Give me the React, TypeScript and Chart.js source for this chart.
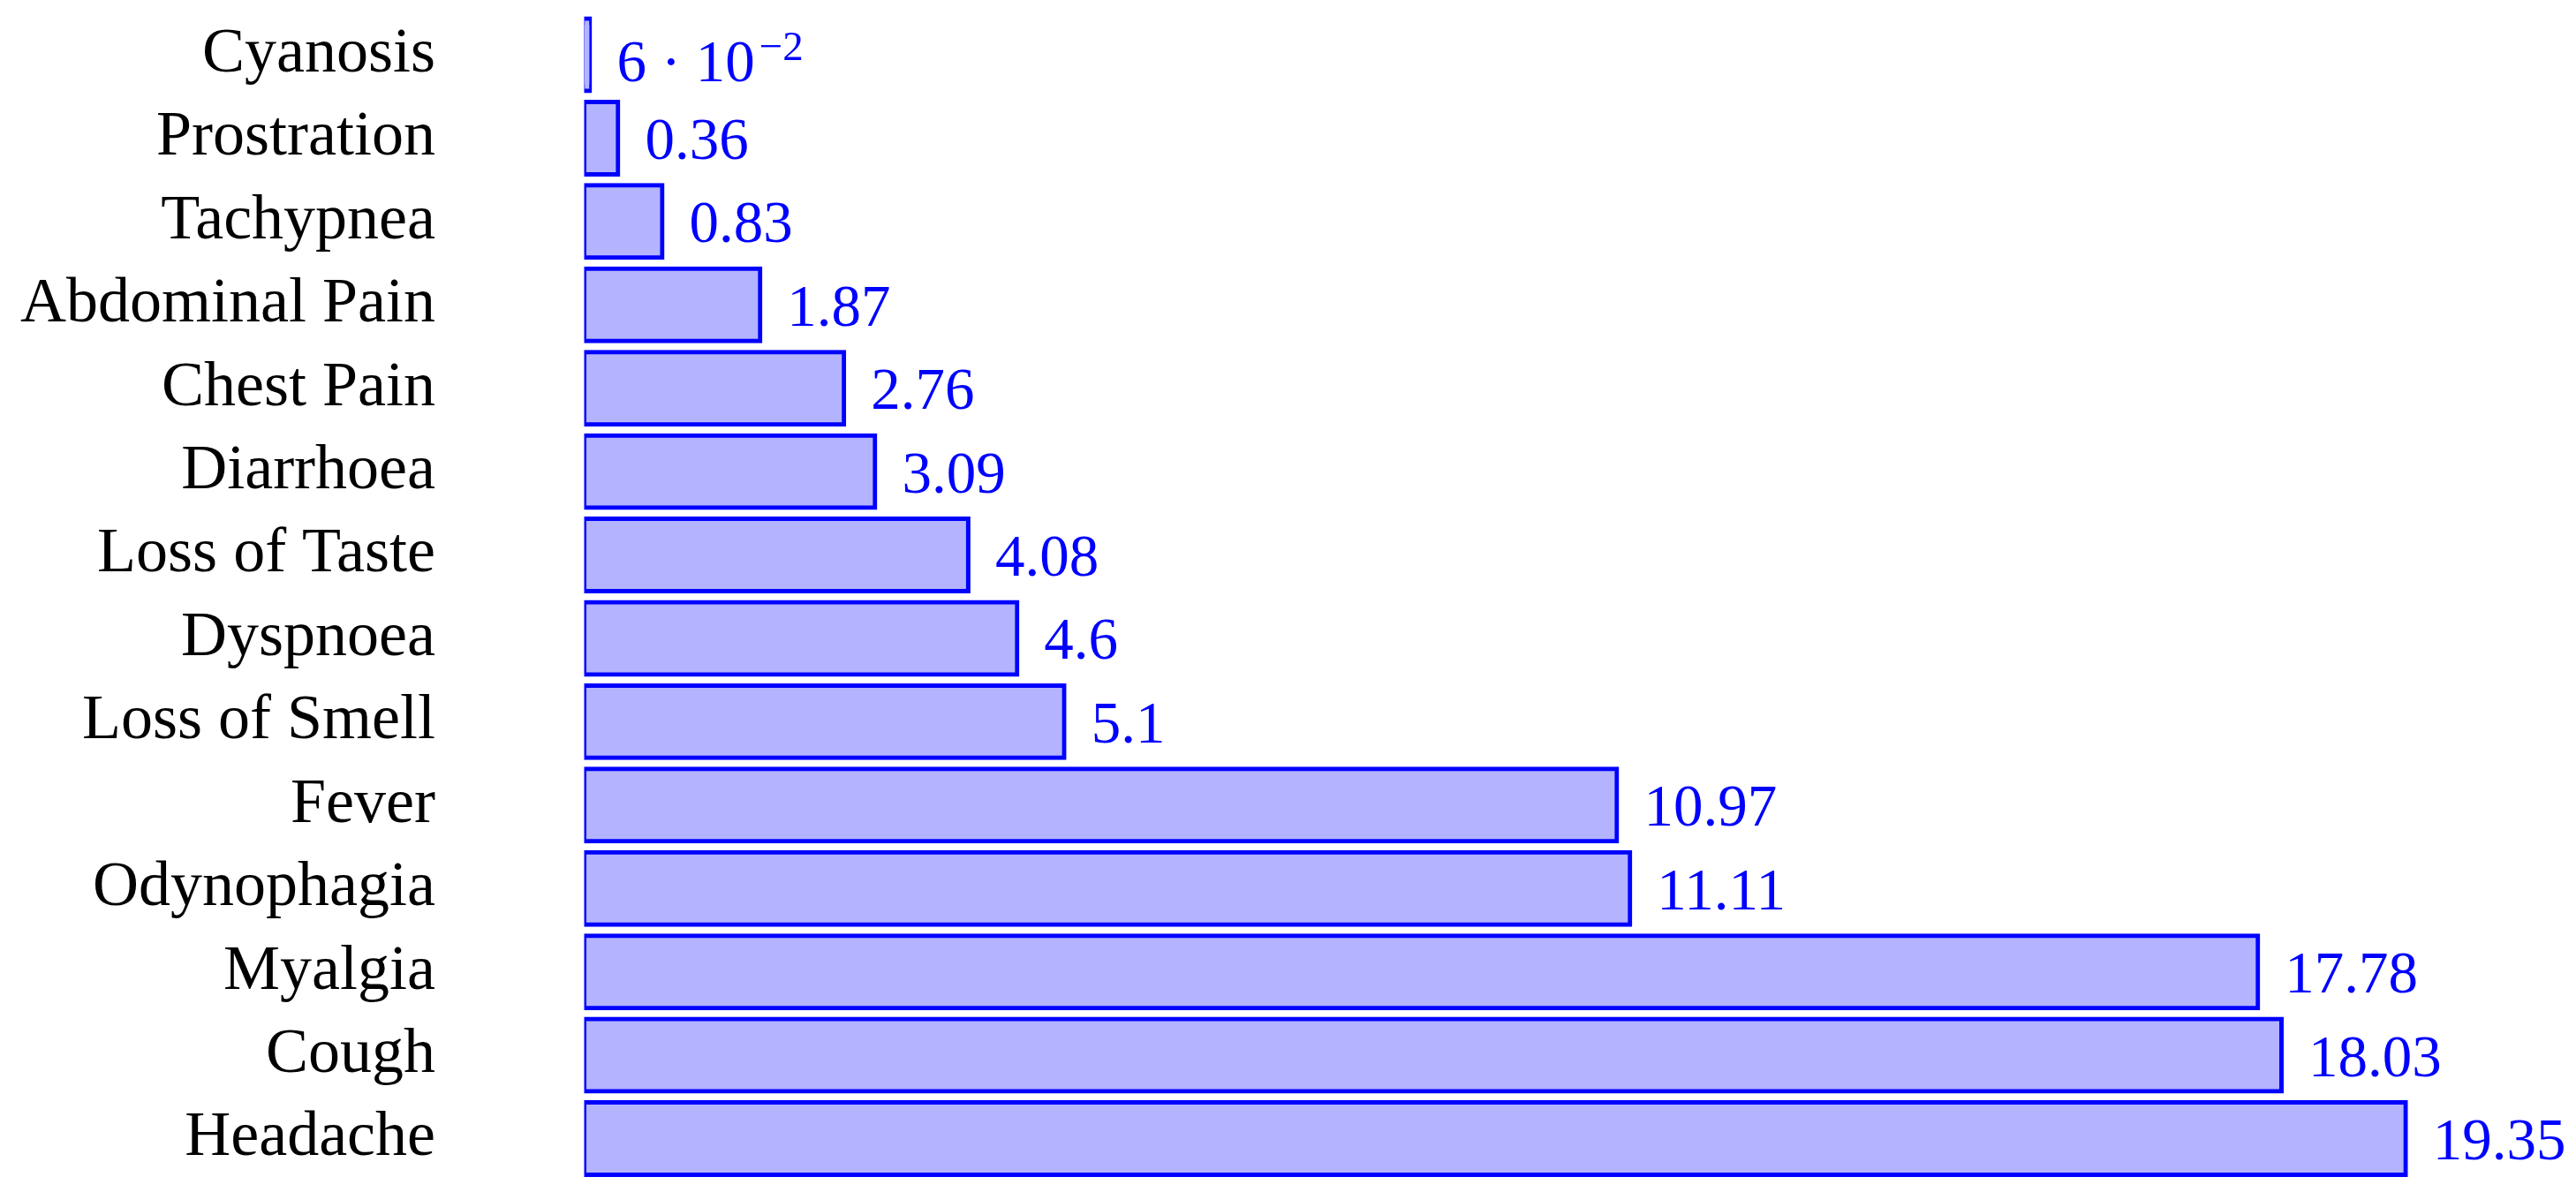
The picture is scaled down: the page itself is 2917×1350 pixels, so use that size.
import React, { useEffect, useRef } from "react";
import { Chart, registerables } from "chart.js";

Chart.register(...registerables);

const categories = [
  "Cyanosis",
  "Prostration",
  "Tachypnea",
  "Abdominal Pain",
  "Chest Pain",
  "Diarrhoea",
  "Loss of Taste",
  "Dyspnoea",
  "Loss of Smell",
  "Fever",
  "Odynophagia",
  "Myalgia",
  "Cough",
  "Headache",
];

const values = [0.06, 0.36, 0.83, 1.87, 2.76, 3.09, 4.08, 4.6, 5.1, 10.97, 11.11, 17.78, 18.03, 19.35];

const valueLabels = ["6 · 10", "0.36", "0.83", "1.87", "2.76", "3.09", "4.08", "4.6", "5.1", "10.97", "11.11", "17.78", "18.03", "19.35"];
const valueSuperscripts = ["−2", "", "", "", "", "", "", "", "", "", "", "", "", ""];

const FONT = '"Liberation Serif", "Times New Roman", serif';
const FONT_SIZE = 67;
const TICK_FONT_SIZE = 72;
const BLUE = "#0000ff";
const FILL = "#b3b3ff";

const labelPlugin = {
  id: "valueLabels",
  afterDatasetsDraw(chart: any) {
    const ctx = chart.ctx;
    const meta = chart.getDatasetMeta(0);
    ctx.save();
    ctx.fillStyle = BLUE;
    ctx.textAlign = "left";
    ctx.textBaseline = "alphabetic";
    meta.data.forEach((bar: any, i: number) => {
      const x = bar.x + 2.5 + 28;
      const sup = valueSuperscripts[i];
      ctx.font = `${FONT_SIZE}px ${FONT}`;
      if (sup) {
        const baseline = bar.y + 30;
        ctx.fillText(valueLabels[i], x, baseline);
        const w = ctx.measureText(valueLabels[i]).width;
        ctx.font = `${Math.round(FONT_SIZE * 0.7)}px ${FONT}`;
        ctx.fillText(sup, x + w + 5, baseline - 24);
      } else {
        ctx.fillText(valueLabels[i], x, bar.y + 23.5);
      }
    });
    ctx.restore();
  },
};

export default function App() {
  const ref = useRef<HTMLCanvasElement | null>(null);
  useEffect(() => {
    if (!ref.current) return;
    const chart = new Chart(ref.current, {
      type: "bar",
      data: {
        labels: categories,
        datasets: [
          {
            data: values,
            backgroundColor: FILL,
            borderColor: BLUE,
            borderWidth: 5,
            borderSkipped: false,
            inflateAmount: 2.5,
            barPercentage: 0.868,
            categoryPercentage: 1,
          } as any,
        ],
      },
      options: {
        indexAxis: "y",
        animation: false,
        responsive: false,
        devicePixelRatio: 1,
        layout: { padding: { left: 0, right: 123.5, top: 14.8, bottom: 13.3 } },
        plugins: { legend: { display: false }, tooltip: { enabled: false } },
        scales: {
          x: { display: false, min: 0, max: 20 },
          y: {
            grid: { display: false, drawTicks: false },
            border: { display: false },
            ticks: {
              color: "#000000",
              padding: 168.5,
              font: { family: FONT, size: TICK_FONT_SIZE },
              autoSkip: false,
            },
            afterFit(scale: any) {
              scale.width = 661.5;
              scale.paddingTop = 0;
              scale.paddingBottom = 0;
            },
          },
        },
      },
      plugins: [labelPlugin],
    });
    return () => chart.destroy();
  }, []);
  return (
    <div style={{ position: "absolute", left: 0, top: 0, width: 2917, height: 1350, background: "#ffffff" }}>
      <canvas ref={ref} width={2917} height={1350} style={{ width: 2917, height: 1350, display: "block" }} />
    </div>
  );
}
